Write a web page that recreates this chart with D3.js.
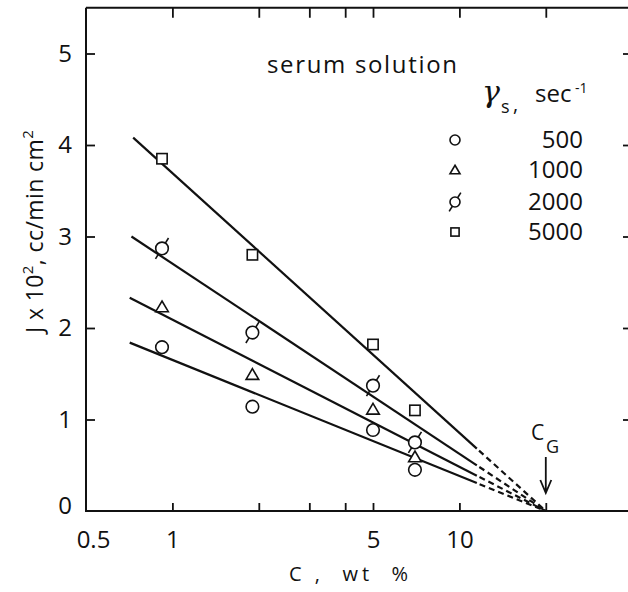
<!DOCTYPE html>
<meta charset="utf-8" />
<html>
<head>
    <title>Flux vs concentration, serum solution</title>
    <script src="https://d3js.org/d3.v7.min.js"></script>
    <style>
        body { margin: 0; background: #fff; }
        svg { display: block; }
        text { font-family: "Open Sans", "DejaVu Sans", sans-serif; font-weight: 400; fill: #111; }
        text.greek { font-family: "DejaVu Serif", serif; font-style: italic; }
    </style>
</head>
<body>
<script>
    // shear rates in the legend, concentrations measured (wt %)
    var shearRates = ["500", "1000", "2000", "5000"];
    var symbols = ["circle", "triangle", "slashed", "square"];
    var concentration = [0.92, 1.9, 5.0, 7.0];

    var flux500 = [1.79, 1.14, 0.885, 0.45];
    var flux1000 = [2.23, 1.49, 1.11, 0.59];
    var flux2000 = [2.87, 1.95, 1.37, 0.75];
    var flux5000 = [3.85, 2.8, 1.82, 1.1];
    var fluxes = [flux500, flux1000, flux2000, flux5000];

    // fitted lines: where each starts; all of them run down to C_G
    var fitStartC = [0.71, 0.71, 0.72, 0.73];
    var fitStartJ = [1.84, 2.33, 3.0, 4.08];
    var fitBreakC = 11.5; // solid up to here, dashed after
    var gelC = 20;

    var xTicks = [1, 2, 3, 4, 5, 10, 20];
    var xLabels = [0.5, 1, 5, 10];
    var yTicks = [0, 1, 2, 3, 4, 5];

    var width = 628,
        height = 592;

    var svg = d3
        .select("body")
        .append("svg")
        .attr("width", width)
        .attr("height", height);

    svg.append("rect").attr("width", width).attr("height", height).attr("fill", "#fff");

    var x = d3.scaleLog().domain([0.5, 10]).range([86, 459.4]);
    var y = d3.scaleLinear().domain([0, 5.5]).range([511, 7.75]);

    // --- axes: ticks point inwards, frame drawn by hand ---
    function noDomain(g) {
        g.select(".domain").remove();
        g.selectAll("line").attr("stroke", "#111").attr("stroke-width", 1.8);
    }

    svg.append("g")
        .attr("transform", "translate(0," + y(0) + ")")
        .call(d3.axisBottom(x).tickValues(xTicks).tickSize(-8).tickFormat(""))
        .call(noDomain);

    svg.append("g")
        .attr("transform", "translate(0," + y(5.5) + ")")
        .call(d3.axisTop(x).tickValues(xTicks).tickSize(-10).tickFormat(""))
        .call(noDomain);

    svg.append("g")
        .attr("transform", "translate(" + x(0.5) + ",0)")
        .call(d3.axisLeft(y).tickValues(yTicks.slice(1)).tickSize(-9).tickFormat(""))
        .call(noDomain);

    svg.append("g")
        .attr("transform", "translate(" + width + ",0)")
        .call(d3.axisRight(y).tickValues(yTicks.slice(1)).tickSize(-5).tickFormat(""))
        .call(noDomain);

    // tick labels
    var xl = svg.append("g")
        .attr("transform", "translate(0," + y(0) + ")")
        .call(d3.axisBottom(x).tickValues(xLabels).tickSize(0).tickPadding(20).tickFormat(d3.format("")))
        .call(noDomain);
    xl.selectAll("text").attr("font-size", 24).filter(function (d) { return d === 0.5; }).attr("dx", 7);

    var yl = svg.append("g")
        .attr("transform", "translate(" + x(0.5) + ",0)")
        .call(d3.axisLeft(y).tickValues(yTicks).tickSize(0).tickPadding(14).tickFormat(d3.format("d")))
        .call(noDomain);
    yl.selectAll("text").attr("font-size", 24).filter(function (d) { return d === 0; }).attr("dy", "0.1em");

    svg.append("path")
        .attr("d", "M" + x(0.5) + "," + y(5.5) + "V" + y(0) + "H" + width + "M" + x(0.5) + "," + y(5.5) + "H" + width)
        .attr("fill", "none")
        .attr("stroke", "#111")
        .attr("stroke-width", 2);

    // --- fitted lines ---
    function fitJ(i, c) {
        return fitStartJ[i] * Math.log(gelC / c) / Math.log(gelC / fitStartC[i]);
    }
    var line = d3.line()
        .x(function (d) { return x(d[0]); })
        .y(function (d) { return y(d[1]); });

    fluxes.forEach(function (f, i) {
        svg.append("path")
            .attr("d", line([[fitStartC[i], fitStartJ[i]], [fitBreakC, fitJ(i, fitBreakC)]]))
            .attr("fill", "none")
            .attr("stroke", "#111")
            .attr("stroke-width", 2.2);
        svg.append("path")
            .attr("d", line([[fitBreakC, fitJ(i, fitBreakC)], [gelC, 0]]))
            .attr("fill", "none")
            .attr("stroke", "#111")
            .attr("stroke-width", 2.2)
            .attr("stroke-dasharray", "6,4")
            .attr("stroke-dashoffset", -3);
    });

    // --- markers ---
    function marker(g, type, s) {
        // s = radius-ish size
        if (type === "circle") {
            g.append("circle").attr("r", s);
        } else if (type === "triangle") {
            g.append("path").attr("d", "M0," + (-s * 0.95) + "L" + s + "," + (s * 0.75) + "L" + (-s) + "," + (s * 0.75) + "Z");
        } else if (type === "square") {
            g.append("rect").attr("x", -s * 0.82).attr("y", -s * 0.82).attr("width", s * 1.64).attr("height", s * 1.64);
        } else {
            g.append("circle").attr("r", s);
            var a = -58 * Math.PI / 180,
                ca = Math.cos(a),
                sa = Math.sin(a);
            [1, -1].forEach(function (k) {
                g.append("line")
                    .attr("x1", k * s * ca).attr("y1", k * s * sa)
                    .attr("x2", k * (s + 6) * ca).attr("y2", k * (s + 6) * sa);
            });
        }
        g.selectAll("circle, path, rect").attr("fill", "#fff");
        g.selectAll("*").attr("stroke", "#111").attr("stroke-width", 1.6);
    }

    fluxes.forEach(function (f, i) {
        f.forEach(function (v, j) {
            var g = svg.append("g")
                .attr("transform", "translate(" + x(concentration[j]) + "," + y(v) + ")");
            marker(g, symbols[i], 6.3);
        });
    });

    // --- legend ---
    svg.append("text")
        .attr("x", 267)
        .attr("y", 73)
        .attr("font-size", 24)
        .attr("textLength", 190)
        .attr("lengthAdjust", "spacing")
        .text("serum solution");

    svg.append("text").attr("class", "greek").attr("x", 482).attr("y", 102).attr("font-size", 30).text("γ");
    svg.append("text").attr("x", 501).attr("y", 113).attr("font-size", 18).text("s");
    svg.append("text").attr("x", 513).attr("y", 111).attr("font-size", 20).text(",");
    svg.append("text").attr("x", 535).attr("y", 102).attr("font-size", 24).text("sec");
    svg.append("text").attr("x", 575).attr("y", 93).attr("font-size", 14).text("-1");

    var legendY = [140, 170, 202, 232];
    shearRates.forEach(function (r, i) {
        var g = svg.append("g").attr("transform", "translate(455," + legendY[i] + ")");
        marker(g, symbols[i], 5);
        svg.append("text")
            .attr("x", 583)
            .attr("y", legendY[i] + 8)
            .attr("font-size", 24)
            .attr("text-anchor", "end")
            .text(r);
    });

    // --- C_G arrow ---
    var cgText = svg.append("text").attr("x", 531).attr("y", 440).attr("font-size", 21);
    cgText.append("tspan").text("C");
    cgText.append("tspan").attr("x", 546).attr("y", 453).attr("font-size", 18).text("G");

    svg.append("path")
        .attr("d", "M" + x(gelC) + ",457V493M" + (x(gelC) - 5.5) + ",480L" + x(gelC) + ",493L" + (x(gelC) + 5.5) + ",480")
        .attr("fill", "none")
        .attr("stroke", "#111")
        .attr("stroke-width", 1.8);

    // --- axis titles ---
    svg.append("text")
        .attr("x", 289)
        .attr("y", 581)
        .attr("font-size", 20)
        .attr("textLength", 119)
        .attr("lengthAdjust", "spacing")
        .style("white-space", "pre")
        .text("C ,  wt  %");

    var yTitle = svg.append("text")
        .attr("transform", "translate(43,333) rotate(-90)")
        .attr("font-size", 23)
        .attr("letter-spacing", 0.4);
    yTitle.append("tspan").text("J x 10");
    yTitle.append("tspan").attr("font-size", 15).attr("dy", -10).text("2");
    yTitle.append("tspan").attr("dy", 10).text(", cc/min cm");
    yTitle.append("tspan").attr("font-size", 15).attr("dy", -10).text("2");
</script>
</body>
</html>
